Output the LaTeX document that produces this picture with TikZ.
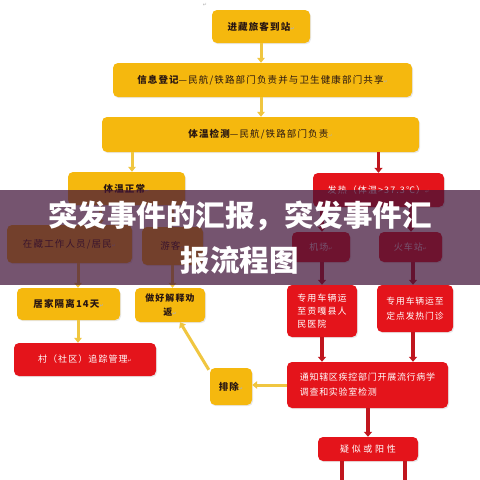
\documentclass[tikz,border=0pt]{standalone}
\usepackage{fontspec}
\setmainfont{Noto Sans CJK SC}
\newfontfamily\symfont{DejaVu Sans}
\usetikzlibrary{arrows.meta,calc,shadows}
\XeTeXlinebreaklocale "zh"
\definecolor{yel}{RGB}{245,184,14}
\definecolor{yline}{RGB}{240,198,64}
\definecolor{redb}{RGB}{228,20,27}
\definecolor{rline}{RGB}{192,22,30}
\definecolor{ink}{RGB}{40,22,18}
\definecolor{veil}{RGB}{65,19,56}
\newcommand{\rt}{{\symfont\fontsize{5}{5}\selectfont\color{gray!60}↵}}
\newcommand{\rtw}{{\symfont\fontsize{5}{5}\selectfont\color{white!80!red}↵}}
\begin{document}
\begin{tikzpicture}[x=1pt,y=-1pt,
  boxbase/.style={rounded corners=5pt, inner sep=0pt, align=center,
    drop shadow={opacity=0.18,shadow xshift=1pt,shadow yshift=-1.2pt}},
  ybox/.style={boxbase, fill=yel, text=ink,
    font=\fontsize{9.5}{13}\selectfont\addfontfeature{LetterSpace=12}},
  rbox/.style={boxbase, fill=redb, text=white,
    font=\fontsize{9}{13}\selectfont\addfontfeature{LetterSpace=12}},
  yarr/.style={draw=yline, line width=3pt, -{Triangle[length=5pt,width=7.5pt]}},
  rarr/.style={draw=rline, line width=3.6pt, -{Triangle[length=5pt,width=8pt]}},
  rlin/.style={draw=rline, line width=3.6pt},
  retmark/.style={inner sep=0pt}]
\useasboundingbox (0,0) rectangle (480,480);
\fill[white] (0,0) rectangle (480,480);

% ---------- boxes ----------
\node[retmark] (topmark) at (205,5) {\rt};
\node[ybox, minimum width=98pt, minimum height=33pt] (arrive) at (261,26.5)
  {\bfseries 进藏旅客到站\rt};
\node[ybox, minimum width=299pt, minimum height=34pt] (info) at (262.5,80)
  {{\bfseries 信息登记}—民航/铁路部门负责并与卫生健康部门共享\rt};
\node[ybox, minimum width=317pt, minimum height=35pt] (temp) at (260.5,134.5)
  {{\bfseries 体温检测}—民航/铁路部门负责\rt};
\node[ybox, minimum width=117pt, minimum height=33pt] (normal) at (126.5,188.5)
  {\bfseries 体温正常\rt};
\node[rbox, minimum width=131pt, minimum height=34pt] (fever) at (378.5,190)
  {发热（体温>37.3℃）\rtw};
\node[ybox, minimum width=125pt, minimum height=38pt] (resident) at (69.5,244)
  {在藏工作人员/居民\rt};
\node[ybox, minimum width=61pt, minimum height=38pt] (tourist) at (172.5,246)
  {游客\rt};
\node[rbox, minimum width=58pt, minimum height=30pt] (airport) at (321,247)
  {机场\rtw};
\node[rbox, minimum width=63pt, minimum height=30pt] (train) at (410.5,247)
  {火车站\rtw};
\node[ybox, minimum width=103pt, minimum height=32pt] (home) at (68.5,304)
  {\bfseries 居家隔离14天\rt};
\node[ybox, minimum width=70pt, minimum height=34pt, font=\fontsize{9}{14}\selectfont\addfontfeature{LetterSpace=12}] (persuade) at (170,305)
  {\bfseries 做好解释劝\\\bfseries 返\rt};
\node[rbox, minimum width=142pt, minimum height=33pt] (village) at (85,359.5)
  {村（社区）追踪管理\rtw};
\node[rbox, minimum width=70pt, minimum height=52pt, align=left] (car1) at (322,311)
  {专用车辆运\\至贡嘎县人\\民医院};
\node[rbox, minimum width=76pt, minimum height=47pt, align=left, font=\fontsize{8.8}{15}\selectfont\addfontfeature{LetterSpace=10}] (car2) at (415,308.5)
  {专用车辆运至\\定点发热门诊};
\node[rbox, minimum width=161pt, minimum height=46pt, align=left, font=\fontsize{9}{15}\selectfont\addfontfeature{LetterSpace=8}] (notify) at (367.5,385)
  {通知辖区疾控部门开展流行病学\\调查和实验室检测};
\node[ybox, minimum width=42pt, minimum height=37pt] (exclude) at (231,386.5)
  {\bfseries 排除\rt};
\node[rbox, minimum width=100pt, minimum height=24pt, font=\fontsize{9}{13}\selectfont\addfontfeature{LetterSpace=30}] (suspect) at (368,449)
  {疑似或阳性};

% ---------- helper coordinates ----------
\path ($(normal.north)+(5.5,0)$) coordinate (nt);
\path ($(normal.south)+(-26.5,0)$) coordinate (na);
\path ($(normal.south)+(45.5,0)$) coordinate (nb);
\path ($(fever.south)+(-56.5,0)$) coordinate (fa);
\path ($(fever.south)+(32.5,0)$) coordinate (fb);
\path ($(resident.south)+(8.5,0)$) coordinate (rs);
\path ($(persuade.south)+(10,0)$) coordinate (pe);
\path ($(exclude.north west)+(-1,2)$) coordinate (ex);
\path ($(car2.north)+(-2,0)$) coordinate (c2n);
\path ($(car2.south)+(-2,0)$) coordinate (c2s);
\coordinate (d1) at (342,482);
\coordinate (d2) at (405,482);

% ---------- connectors ----------
\draw[yarr] (arrive.south) -- (arrive.south |- info.north);
\draw[yarr] (arrive.south |- info.south) -- (arrive.south |- temp.north);
\draw[yarr] (nt |- temp.south) -- (nt);
\draw[rarr] (fever.north |- temp.south) -- (fever.north);
\draw[yarr] (na) -- (na |- resident.north);
\draw[yarr] (nb) -- (nb |- tourist.north);
\draw[rarr] (fa) -- (fa |- airport.north);
\draw[rarr] (fb) -- (fb |- train.north);
\draw[yarr] (rs) -- (rs |- home.north);
\draw[yarr] (tourist.south) -- (tourist.south |- persuade.north);
\draw[yarr] (rs |- home.south) -- (rs |- village.north);
\draw[rarr] (car1.north |- airport.south) -- (car1.north);
\draw[rarr] (c2n |- train.south) -- (c2n);
\draw[rarr] (car1.south) -- (car1.south |- notify.north);
\draw[rarr] (c2s) -- (c2s |- notify.north);
\draw[rarr] (suspect.north |- notify.south) -- (suspect.north);
\draw[yarr] (notify.west) -- (notify.west -| exclude.east);
\draw[yarr] (ex) -- (pe);
\draw[rlin] (d1 |- suspect.south) -- (d1);
\draw[rlin] (d2 |- suspect.south) -- (d2);

% ---------- title veil ----------
\fill[veil, opacity=0.72] (0,190) rectangle (480,285);
\node[text=white, align=center, font=\fontsize{29.5}{45}\selectfont\bfseries] (title) at (240,238)
  {突发事件的汇报，突发事件汇\\报流程图};
\end{tikzpicture}
\end{document}
